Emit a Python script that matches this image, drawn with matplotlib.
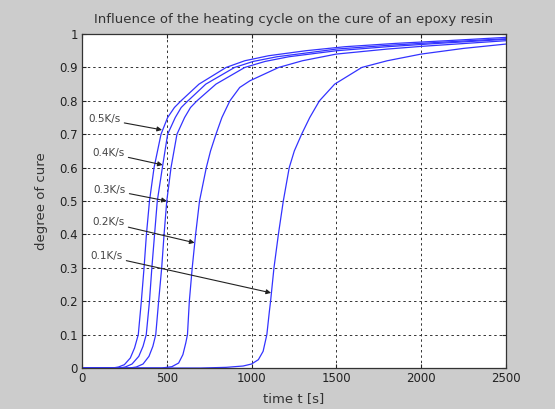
import numpy as np
import matplotlib
matplotlib.use("Agg")
import matplotlib.pyplot as plt

# degree of cure vs time, one curve per heating rate
t_05 = [0, 180, 215, 250, 285, 310, 332, 350, 366, 380, 398, 425, 466, 505, 545, 584, 690, 850, 960, 1100, 1320, 1550, 1850, 2150, 2500]
a_05 = [0, 0, 0.003, 0.01, 0.03, 0.06, 0.1, 0.2, 0.3, 0.4, 0.5, 0.6, 0.7, 0.75, 0.78, 0.8, 0.85, 0.9, 0.92, 0.935, 0.95, 0.962, 0.972, 0.98, 0.99]

t_04 = [0, 220, 255, 295, 335, 360, 379, 398, 412, 428, 444, 474, 505, 550, 585, 625, 730, 900, 1010, 1150, 1350, 1500, 1800, 2100, 2500]
a_04 = [0, 0, 0.003, 0.012, 0.035, 0.065, 0.1, 0.2, 0.3, 0.4, 0.5, 0.6, 0.7, 0.75, 0.78, 0.8, 0.85, 0.9, 0.918, 0.932, 0.945, 0.955, 0.966, 0.975, 0.986]

t_03 = [0, 280, 320, 360, 395, 418, 435, 452, 470, 484, 500, 525, 560, 605, 640, 678, 790, 960, 1080, 1220, 1500, 1800, 2100, 2500]
a_03 = [0, 0, 0.003, 0.012, 0.035, 0.065, 0.1, 0.2, 0.3, 0.4, 0.5, 0.6, 0.7, 0.75, 0.78, 0.8, 0.85, 0.9, 0.918, 0.932, 0.95, 0.962, 0.972, 0.984]

t_02 = [0, 470, 530, 570, 595, 612, 622, 633, 650, 670, 693, 733, 758, 790, 825, 872, 930, 990, 1160, 1300, 1500, 1800, 2000, 2500]
a_02 = [0, 0, 0.004, 0.015, 0.04, 0.075, 0.1, 0.2, 0.3, 0.4, 0.5, 0.6, 0.65, 0.7, 0.75, 0.8, 0.84, 0.86, 0.9, 0.92, 0.94, 0.955, 0.963, 0.98]

t_01 = [0, 700, 850, 950, 1000, 1040, 1068, 1090, 1105, 1112, 1132, 1158, 1187, 1222, 1252, 1295, 1343, 1400, 1490, 1650, 1800, 2000, 2250, 2500]
a_01 = [0, 0, 0.002, 0.006, 0.012, 0.025, 0.05, 0.1, 0.17, 0.2, 0.3, 0.4, 0.5, 0.6, 0.65, 0.7, 0.75, 0.8, 0.85, 0.9, 0.92, 0.94, 0.957, 0.97]

courbes = [(t_05, a_05), (t_04, a_04), (t_03, a_03), (t_02, a_02), (t_01, a_01)]

# labels of the heating rates and the point each arrow points to
etiquettes = ["0.5K/s", "0.4K/s", "0.3K/s", "0.2K/s", "0.1K/s"]
pos_texte = [(35, 0.745), (59, 0.644), (65, 0.534), (59, 0.436), (47, 0.335)]
pos_fleche = [(472, 0.713), (476, 0.608), (500, 0.5), (664, 0.375), (1115, 0.225)]

x_ticks = [0, 500, 1000, 1500, 2000, 2500]
y_ticks = [0, 0.1, 0.2, 0.3, 0.4, 0.5, 0.6, 0.7, 0.8, 0.9, 1]

plt.rcParams['font.family'] = ['DejaVu Sans']

fig = plt.figure(figsize=(5.55, 4.09), dpi=100)
fig.patch.set_facecolor('#cccccc')
ax = fig.add_axes([0.1477, 0.1002, 0.764, 0.8166])
ax.set_facecolor('white')

for t, a in courbes:
    ax.plot(t, a, color=(0.2, 0.2, 1.0), linewidth=0.9)

for txt, p_txt, p_fl in zip(etiquettes, pos_texte, pos_fleche):
    ax.annotate(txt, xy=p_fl, xytext=p_txt, ha='left', va='center',
                fontsize=7.5, color='#444444',
                arrowprops=dict(arrowstyle='-|>', color='#222222', lw=0.8,
                                mutation_scale=7, shrinkA=1, shrinkB=0))

ax.set_xlim(0, 2500)
ax.set_ylim(0, 1)
ax.set_xticks(x_ticks)
ax.set_yticks(y_ticks)
ax.set_yticklabels([("%g" % v) for v in y_ticks])
ax.tick_params(direction='in', top=True, right=True, length=3, labelsize=8.5,
               colors='#222222', pad=3)
ax.grid(True, color='#333333', linestyle=(0, (2.5, 3)), linewidth=0.7)
for s in ax.spines.values():
    s.set_color('#333333')
    s.set_linewidth(0.9)

ax.set_title("Influence of the heating cycle on the cure of an epoxy resin",
             fontsize=9.5, color='#333333', pad=8)
ax.set_xlabel("time t [s]", fontsize=9.5, color='#333333', labelpad=5)
ax.set_ylabel("degree of cure", fontsize=9.5, color='#333333', labelpad=8)

fig.savefig("out.png", dpi=100, facecolor=fig.get_facecolor())
